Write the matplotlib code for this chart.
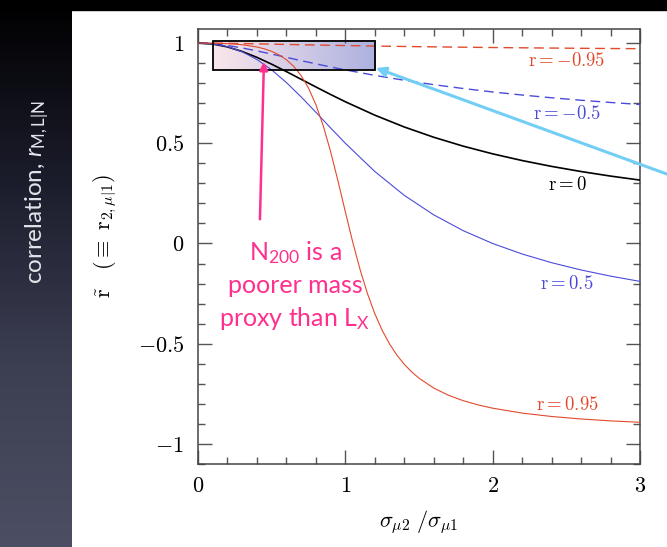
import matplotlib.pyplot as plt
import numpy as np
from matplotlib.colors import LinearSegmentedColormap
from matplotlib.patches import Rectangle
from matplotlib.ticker import MultipleLocator, FuncFormatter

# --- data ---
x_grid = [0, 0.1, 0.2, 0.3, 0.4, 0.5, 0.6, 0.7, 0.8, 0.9, 1.0,
          1.2, 1.4, 1.6, 1.8, 2.0, 2.2, 2.4, 2.6, 2.8, 3.0]
r_m095 = [1, .9996, .9986, .9974, .9959, .9945, .9930, .9915, .9901, .9887, .9874,
          .9850, .9828, .9809, .9792, .9776, .9762, .9749, .9737, .9726, .9718]
r_m05 = [1, .9966, .9878, .9754, .9608, .9449, .9286, .9122, .8963, .8808, .8660,
         .8386, .8142, .7924, .7731, .7559, .7406, .7269, .7146, .7035, .6934]
r_0 = [1, .9950, .9806, .9578, .9285, .8944, .8575, .8192, .7809, .7433, .7071,
       .6402, .5812, .5300, .4856, .4472, .4138, .3846, .3590, .3363, .3162]
r_p05 = [1, .9959, .9820, .9563, .9177, .8660, .8030, .7313, .6547, .5766, .5000,
         .3592, .2402, .1429, .0640, 0, -.0524, -.0958, -.1321, -.1628, -.1890]

# r=0.95 drops steeply near 1, so it was read at a finer step
x_095 = [0, 0.1, 0.2, 0.3, 0.4, 0.45, 0.5, 0.55, 0.6, 0.65, 0.7, 0.75, 0.8, 0.85, 0.9,
         0.95, 1.0, 1.05, 1.1, 1.15, 1.2, 1.25, 1.3, 1.35, 1.4, 1.45, 1.5, 1.6, 1.7,
         1.8, 1.9, 2.0, 2.2, 2.4, 2.6, 2.8, 3.0]
r_p095 = [1, .9994, .9970, .9915, .9803, .9712, .9585, .9410, .9168, .8834, .8375,
          .7753, .6928, .5871, .4585, .3122, .1581, .0076, -.1299, -.2495, -.3500,
          -.4330, -.5010, -.5568, -.6025, -.6404, -.6720, -.7211, -.7570, -.7841,
          -.8050, -.8216, -.8460, -.8630, -.8754, -.8848, -.8920]

curve_labels = ['r=-0.95', 'r=-0.5', 'r=0', 'r=0.5', 'r=0.95']
label_x = [2.505, 2.505, 2.505, 2.505, 2.505]
label_y = [0.912, 0.648, 0.294, -0.2, -0.805]

RED = '#e24a2d'
BLUE = '#4b4bd9'
PINK = '#ff2f8e'

plt.rcParams['mathtext.fontset'] = 'cm'
plt.rcParams['mathtext.rm'] = 'Lato'
plt.rcParams['mathtext.it'] = 'Lato:italic'
plt.rcParams['font.family'] = 'serif'
plt.rcParams['font.serif'] = ['cmr10']
plt.rcParams['axes.formatter.use_mathtext'] = True

fig = plt.figure(figsize=(6.67, 5.47), dpi=100)
fig.patch.set_facecolor('white')

# dark slide strip on the left + black band on top
sax = fig.add_axes([0, 0, 72 / 667, 1])
strip = LinearSegmentedColormap.from_list('strip', ['#000000', '#1c1d2c', '#3c3e52', '#4c4f63'])
sax.imshow(np.linspace(0, 1, 256).reshape(-1, 1), cmap=strip, aspect='auto')
sax.axis('off')
fig.patches.append(Rectangle((0, 1 - 10 / 547), 1, 10 / 547, transform=fig.transFigure,
                             color='black', zorder=5))
fig.text(37 / 667, 1 - 192 / 547, r'correlation, $r_{\mathrm{M,L|N}}$', rotation=90,
         color='#e4e4ec', fontsize=17.5, family='Lato', math_fontfamily='custom',
         ha='center', va='center')

# === main panel ===
ax = fig.add_axes([198 / 667, 83 / 547, 442 / 667, 435 / 547])

# shaded box
box_cmap = LinearSegmentedColormap.from_list('box', ['#fbe7eb', '#acb1e0'])
ax.imshow(np.linspace(0, 1, 256).reshape(1, -1), cmap=box_cmap, aspect='auto',
          extent=[0.1, 1.2, 0.865, 1.01], zorder=1)
ax.add_patch(Rectangle((0.1, 0.865), 1.1, 0.145, fill=False, ec='black', lw=1.3, zorder=4))

ax.plot(x_grid, r_m095, color=RED, lw=1.0, ls=(0, (7, 4)), zorder=3)
ax.plot(x_grid, r_m05, color=BLUE, lw=1.0, ls=(0, (7, 4)), zorder=3)
ax.plot(x_grid, r_0, color='black', lw=1.2, zorder=3)
ax.plot(x_grid, r_p05, color=BLUE, lw=0.8, zorder=3)
ax.plot(x_095, r_p095, color=RED, lw=0.8, zorder=3)

for txt, lx, ly, c in zip(curve_labels, label_x, label_y, [RED, BLUE, 'black', BLUE, RED]):
    name, val = txt.split('=')
    ax.text(lx, ly, r'$\mathrm{' + name + '}=' + val + '$',
            color=c, fontsize=13.5, ha='center', va='center')

# annotations
ax.annotate('', xy=(0.448, 0.92), xytext=(0.42, 0.107),
            arrowprops=dict(arrowstyle='-|>', color=PINK, lw=1.8, mutation_scale=12),
            zorder=6)
ax.annotate('', xy=(1.19, 0.88), xytext=(3.27, 0.323), annotation_clip=False,
            arrowprops=dict(arrowstyle='-|>', color='#72cef5', lw=2.2, mutation_scale=14),
            zorder=6)
pink_lines = ['N$_{200}$ is a', 'poorer mass', r'proxy than L$_{\mathrm{X}}$']
for i, line in enumerate(pink_lines):
    ax.text(0.658, -0.082 - 0.165 * i, line, color=PINK, fontsize=18, family='Lato',
            math_fontfamily='custom', ha='center', va='baseline', zorder=6)

ax.set_xlim(0, 3)
ax.set_ylim(-1.1, 1.07)
ax.xaxis.set_major_locator(MultipleLocator(1))
ax.xaxis.set_minor_locator(MultipleLocator(0.2))
ax.yaxis.set_major_locator(MultipleLocator(0.5))
ax.yaxis.set_minor_locator(MultipleLocator(0.1))
ax.xaxis.set_major_formatter(FuncFormatter(lambda v, p: f'${v:g}$'))
ax.yaxis.set_major_formatter(FuncFormatter(lambda v, p: f'${v:g}$'))
ax.tick_params(which='both', direction='in', top=True, right=True, color='#555555',
               labelsize=16, width=1)
ax.tick_params(which='major', length=10)
ax.tick_params(which='minor', length=5)
ax.tick_params(axis='x', pad=9)
ax.tick_params(axis='y', pad=10)
for s in ax.spines.values():
    s.set_color('#444444')
    s.set_linewidth(1.1)

fig.text(419 / 667, 1 - 522 / 547, r'$\sigma_{\mu 2}\ /\sigma_{\mu 1}$', fontsize=16,
         ha='center', va='center')
fig.text(105 / 667, 1 - 236 / 547, r'$\tilde{\mathrm{r}}\ \ \ (\equiv\ \mathrm{r}_{2,\mu|1})$',
         fontsize=16, rotation=90, ha='center', va='center')

fig.savefig('out.png', dpi=100)
